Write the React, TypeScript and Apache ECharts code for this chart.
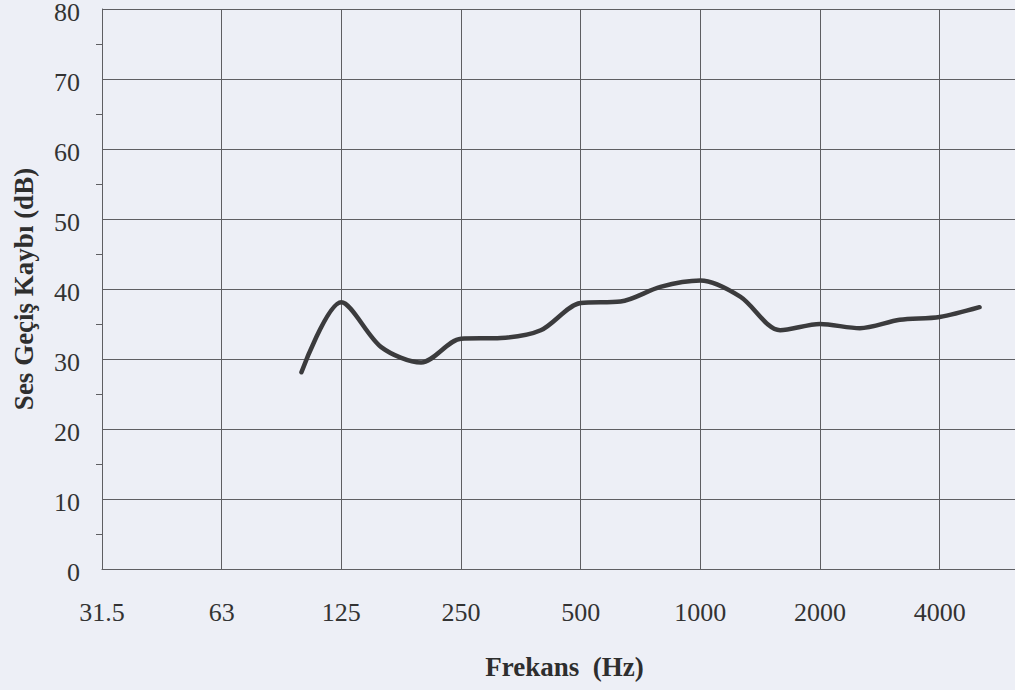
import React, { useEffect, useRef } from "react";
import * as echarts from "echarts";

// Octave band tick labels (positions 0..7 on the octave axis)
const tickLabels = ["31.5", "63", "125", "250", "500", "1000", "2000", "4000"];

// 1/3-octave band centre frequencies (Hz) of the measured curve
const frequencies = [100, 125, 160, 200, 250, 315, 400, 500, 630, 800, 1000, 1250, 1600, 2000, 2500, 3150, 4000, 5000];

// Sound transmission loss (dB)
const transmissionLoss = [28.1, 38.1, 31.7, 29.5, 32.9, 33.0, 34.1, 38.0, 38.2, 40.3, 41.2, 38.9, 34.1, 35.0, 34.4, 35.6, 36.0, 37.4];

// octave position: 1000 Hz -> 5, snapped to 1/3-octave band numbers
const octavePos = (f: number) => Math.round(3 * Math.log2(f / 1000)) / 3 + 5;

export default function App() {
  const ref = useRef<HTMLDivElement>(null);

  useEffect(() => {
    if (!ref.current) return;
    const chart = echarts.init(ref.current, undefined, { renderer: "svg" });
    const font = "'Liberation Serif', 'Times New Roman', serif";
    const gridColor = "#5e5e62";
    chart.setOption({
      animation: false,
      backgroundColor: "#edeff6",
      textStyle: { fontFamily: font },
      grid: { left: 102, top: 9, right: -12, bottom: 121, outerBoundsMode: "none", containLabel: false },
      xAxis: {
        type: "value",
        min: 0,
        max: 7.73,
        interval: 1,
        name: "Frekans  (Hz)",
        nameLocation: "middle",
        nameGap: 84,
        nameTextStyle: { fontFamily: font, fontSize: 27, fontWeight: "bold", color: "#2e2e2e" },
        axisLine: { show: true, lineStyle: { color: gridColor, width: 1 } },
        axisTick: { show: false },
        axisLabel: {
          fontFamily: font,
          fontSize: 26,
          color: "#333",
          margin: 30,
          showMaxLabel: false,
          formatter: (v: number) => (Number.isInteger(v) && tickLabels[v] !== undefined ? tickLabels[v] : ""),
        },
        splitLine: { show: true, lineStyle: { color: gridColor, width: 1 } },
      },
      yAxis: {
        type: "value",
        min: 0,
        max: 80,
        interval: 10,
        name: "Ses Geçiş Kaybı (dB)",
        nameLocation: "middle",
        nameGap: 65,
        nameRotate: 90,
        nameTextStyle: { fontFamily: font, fontSize: 27, fontWeight: "bold", color: "#2e2e2e" },
        axisLine: { show: true, lineStyle: { color: gridColor, width: 1 } },
        axisTick: { show: false },
        minorTick: { show: true, splitNumber: 2, length: 6, lineStyle: { color: gridColor, width: 1 } },
        axisLabel: { fontFamily: font, fontSize: 26, color: "#333", margin: 22, verticalAlign: "top", lineHeight: 6 },
        splitLine: { show: true, lineStyle: { color: gridColor, width: 1 } },
      },
      series: [
        {
          type: "line",
          data: frequencies.map((f, i) => [octavePos(f), transmissionLoss[i]]),
          smooth: 0.3,
          showSymbol: false,
          lineStyle: { color: "#3b3b3d", width: 4.5, cap: "round", join: "round" },
        },
      ],
    });
    return () => chart.dispose();
  }, []);

  return <div ref={ref} style={{ position: "absolute", left: 0, top: 0, width: 1015, height: 690 }} />;
}
